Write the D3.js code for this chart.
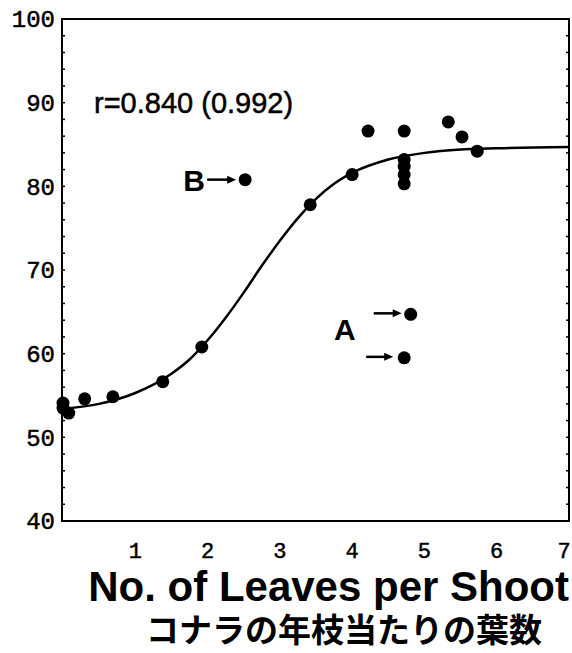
<!DOCTYPE html>
<html><head><meta charset="utf-8">
<script src="https://cdn.jsdelivr.net/npm/d3@7"></script>
<style>body{margin:0;background:#fff}svg{display:block}</style>
</head><body>
<script>
// Data
const leaves = [0.0, 0.0, 0.08, 0.30, 0.69, 1.38, 1.92, 3.42, 4.00, 4.22, 4.72, 4.72, 4.72, 4.72, 4.72, 5.33, 5.52, 5.73, 2.52, 4.81, 4.72];
const values = [54.1, 53.5, 52.9, 54.6, 54.85, 56.65, 60.8, 77.8, 81.4, 86.6, 86.6, 83.2, 82.4, 81.4, 80.3, 87.7, 85.9, 84.2, 80.8, 64.7, 59.5];
const curveX = [0, 0.5, 1.0, 1.5, 1.75, 2.0, 2.25, 2.5, 2.75, 3.0, 3.25, 3.5, 3.75, 4.0, 4.5, 5.0, 5.5, 6.0, 7.0];
const curveY = [53.4, 54.0, 55.3, 57.6, 59.3, 61.6, 64.3, 67.3, 70.5, 73.5, 76.2, 78.5, 80.3, 81.6, 83.2, 84.0, 84.4, 84.55, 84.7];
const xTicks = [1, 2, 3, 4, 5, 6, 7];
const yTicks = [40, 50, 60, 70, 80, 90, 100];
const labelB = {name: "B", x: 2.52, y: 80.8};
const labelA = {name: "A", pts: [[4.81, 64.7], [4.72, 59.5]]};
const corrText = "r=0.840 (0.992)";
const xTitle = "No. of Leaves per Shoot";
const xTitleJa = "コナラの年枝当たりの葉数";

const W = 572, H = 653;
const svg = d3.select("body").append("svg").attr("width", W).attr("height", H);
const x = d3.scaleLinear().domain([0, 7]).range([63, 569]);
const y = d3.scaleLinear().domain([40, 100]).range([521, 19]);

// frame
const g = svg.append("g");
g.append("rect").attr("x", x(0) - 1).attr("y", y(100)).attr("width", x(7) - x(0) + 1).attr("height", y(40) - y(100))
  .attr("fill", "none").attr("stroke", "#000").attr("stroke-width", 2);

// minor ticks inside left/right
const minor = d3.range(42, 100, 2);
g.selectAll(".ml").data(minor).join("line").attr("x1", x(0) - 1).attr("x2", x(0) + 2)
  .attr("y1", d => y(d)).attr("y2", d => y(d)).attr("stroke", "#000").attr("stroke-width", 1.5);
g.selectAll(".mr").data(minor).join("line").attr("x1", x(7)).attr("x2", x(7) - 3)
  .attr("y1", d => y(d)).attr("y2", d => y(d)).attr("stroke", "#000").attr("stroke-width", 1.5);

// y tick labels
g.selectAll(".yt").data(yTicks).join("text")
  .attr("x", 55).attr("y", d => y(d)).attr("dy", "0.35em").attr("text-anchor", "end")
  .attr("font-family", "Liberation Mono, monospace").attr("font-size", 24)
  .attr("stroke", "#000").attr("stroke-width", 0.5).text(d => d);

// x tick labels
g.selectAll(".xt").data(xTicks).join("text")
  .attr("x", d => d === 7 ? x(d) - 5 : x(d)).attr("y", 558).attr("text-anchor", "middle")
  .attr("font-family", "Liberation Mono, monospace").attr("font-size", 22)
  .attr("stroke", "#000").attr("stroke-width", 0.5).text(d => d);

// fitted curve
const line = d3.line().x((d, i) => x(curveX[i])).y((d, i) => y(curveY[i])).curve(d3.curveMonotoneX);
g.append("path").attr("d", line(curveX)).attr("fill", "none").attr("stroke", "#000").attr("stroke-width", 2.5);

// points
g.selectAll(".pt").data(leaves).join("circle")
  .attr("cx", d => x(d)).attr("cy", (d, i) => y(values[i])).attr("r", 6.5).attr("fill", "#000");

// arrows
function arrow(x1, x2, yy) {
  g.append("line").attr("x1", x1).attr("x2", x2 - 6).attr("y1", yy).attr("y2", yy).attr("stroke", "#000").attr("stroke-width", 2.5);
  g.append("path").attr("d", `M${x2},${yy} L${x2 - 9},${yy - 4} L${x2 - 9},${yy + 4} Z`).attr("fill", "#000");
}
arrow(x(labelB.x) - 38, x(labelB.x) - 9, y(labelB.y));
g.append("text").attr("x", x(labelB.x) - 62).attr("y", y(labelB.y) + 11)
  .attr("font-family", "Liberation Sans, Arial, sans-serif").attr("font-weight", "bold").attr("font-size", 30).text(labelB.name);
arrow(x(labelA.pts[0][0]) - 37, x(labelA.pts[0][0]) - 9, y(labelA.pts[0][1]) - 1);
arrow(x(labelA.pts[1][0]) - 38, x(labelA.pts[1][0]) - 11, y(labelA.pts[1][1]) - 1);
g.append("text").attr("x", 334).attr("y", 340)
  .attr("font-family", "Liberation Sans, Arial, sans-serif").attr("font-weight", "bold").attr("font-size", 30).text(labelA.name);

// correlation text
g.append("text").attr("x", 94).attr("y", 113)
  .attr("font-family", "Liberation Sans, Arial, sans-serif").attr("font-size", 29)
  .attr("stroke", "#000").attr("stroke-width", 0.5).text(corrText);

// titles
svg.append("text").attr("x", 569).attr("y", 601).attr("text-anchor", "end")
  .attr("font-family", "Liberation Sans, Arial, sans-serif").attr("font-weight", "bold").attr("font-size", 42)
  .text(xTitle);
svg.append("text").attr("x", 344).attr("y", 642).attr("text-anchor", "middle")
  .attr("font-family", "Noto Sans CJK JP, sans-serif").attr("font-weight", "bold").attr("font-size", 33)
  .text(xTitleJa);
</script>
</body></html>
